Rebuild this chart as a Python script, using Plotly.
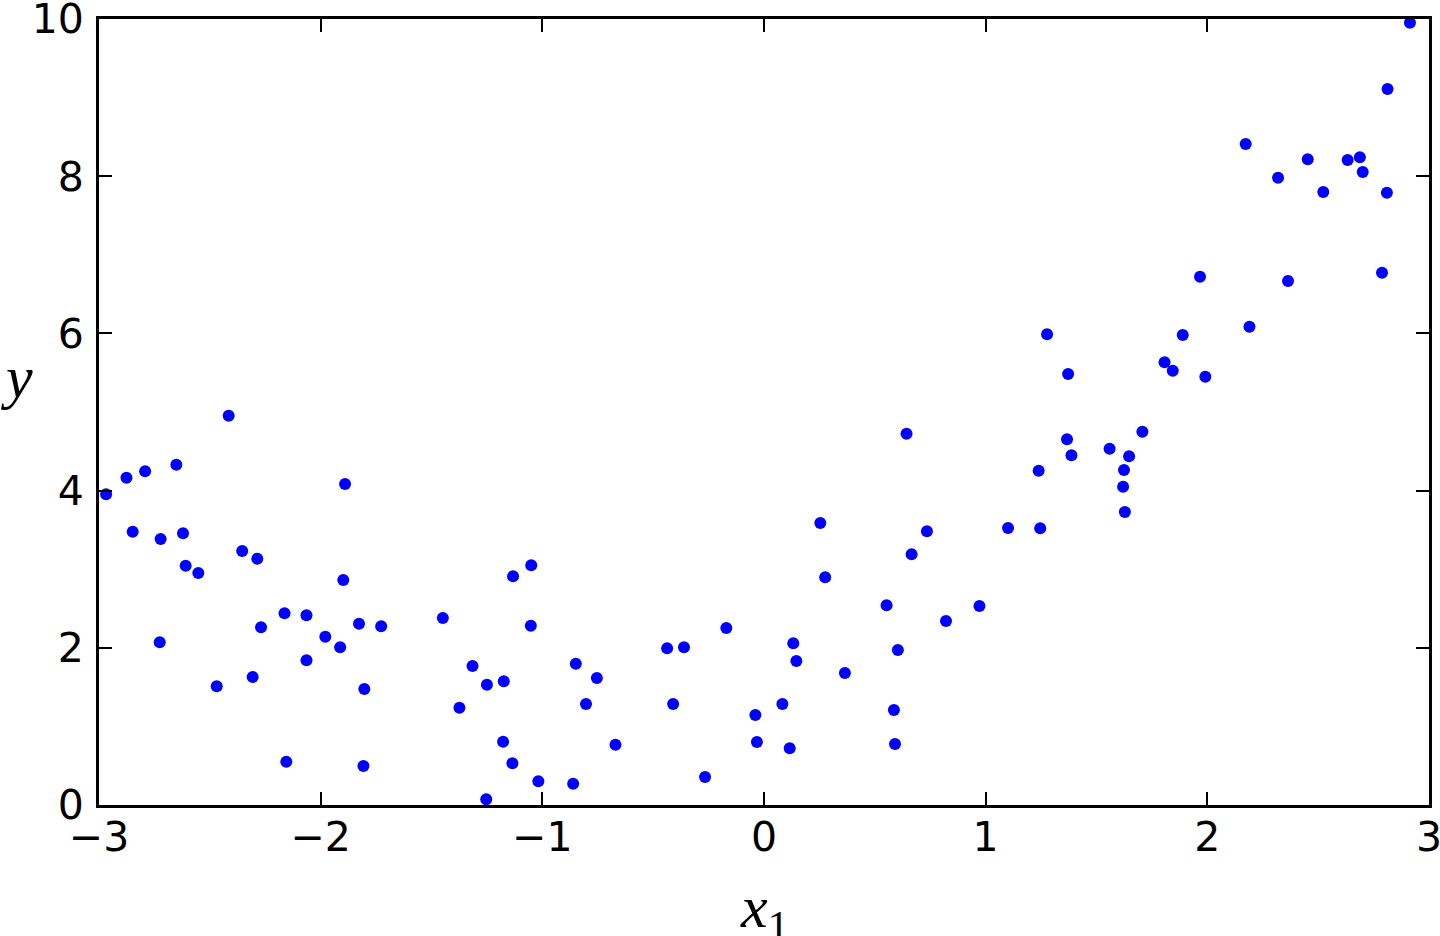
import plotly.graph_objects as go

x_vals = [-2.968, -2.876, -2.792, -2.848, -2.651, -2.722, -2.726, -2.621, -2.609, -2.552,
          -2.415, -2.469, -2.354, -2.286, -2.269, -2.307, -2.163, -2.155, -2.064, -2.064,
          -1.979, -1.912, -1.890, -1.898, -1.827, -1.803, -1.807, -1.727, -1.449, -1.374,
          -1.315, -1.250, -1.253, -1.174, -1.177, -1.132, -1.135, -1.050, -1.052, -1.018,
          -0.849, -0.861, -0.803, -0.754, -0.670, -0.437, -0.361, -0.410, -0.266, -0.170,
          -0.039, -0.032, 0.083, 0.116, 0.132, 0.146, 0.254, 0.276, 0.365, 0.553,
          0.586, 0.591, 0.604, 0.643, 0.666, 0.735, 0.821, 0.972, 1.101, 1.239,
          1.246, 1.277, 1.372, 1.367, 1.387, 1.559, 1.624, 1.620, 1.628, 1.647,
          1.707, 1.807, 1.844, 1.889, 1.967, 1.991, 2.173, 2.190, 2.319, 2.364,
          2.453, 2.523, 2.633, 2.688, 2.701, 2.788, 2.810, 2.813, 2.914]

y_vals = [3.953, 4.164, 4.246, 3.477, 4.330, 3.384, 2.070, 3.457, 3.045, 2.952,
          4.953, 1.510, 3.232, 3.134, 2.261, 1.628, 2.439, 0.551, 2.413, 1.841,
          2.141, 2.006, 4.084, 2.863, 2.307, 1.476, 0.496, 2.273, 2.379, 1.238,
          1.768, 1.531, 0.073, 1.574, 0.805, 2.910, 0.531, 3.050, 2.281, 0.302,
          1.798, 0.271, 1.285, 1.616, 0.767, 1.994, 2.006, 1.285, 0.356, 2.252,
          1.145, 0.802, 1.285, 0.721, 2.057, 1.832, 3.588, 2.897, 1.679, 2.541,
          1.209, 0.776, 1.972, 4.724, 3.190, 3.482, 2.341, 2.532, 3.524, 4.253,
          3.520, 5.988, 5.483, 4.653, 4.449, 4.533, 4.262, 4.050, 3.728, 4.436,
          4.749, 5.632, 5.525, 5.980, 6.721, 5.449, 8.410, 6.085, 7.981, 6.667,
          8.215, 7.799, 8.206, 8.240, 8.053, 6.772, 7.790, 9.109, 9.953]

x_ticks = [-3, -2, -1, 0, 1, 2, 3]
y_ticks = [0, 2, 4, 6, 8, 10]
x_label = "<i>x</i><sub>1</sub>"
y_label = "<i>y</i>"

fig = go.Figure()
fig.add_trace(go.Scatter(
    x=x_vals, y=y_vals, mode="markers",
    marker=dict(color="#0000ff", size=12, line=dict(width=0)),
    cliponaxis=True, showlegend=False,
))

axis_common = dict(
    showgrid=False, zeroline=False, automargin=False,
    showline=True, linecolor="black", linewidth=3,
    mirror="ticks", ticks="inside", ticklen=13, tickwidth=1.5, tickcolor="black",
    ticklabeloverflow="allow",
    tickfont=dict(family="DejaVu Sans", size=41, color="black"),
)

fig.update_xaxes(range=[-3, 3], tickvals=x_ticks, ticklabelstandoff=-6, **axis_common)
fig.update_yaxes(range=[0, 10], tickvals=y_ticks, ticklabelstandoff=4, **axis_common)

fig.add_annotation(
    text=x_label, xref="paper", yref="paper", x=0.5, y=0,
    xanchor="center", yanchor="middle", yshift=-106, showarrow=False,
    font=dict(family="Liberation Serif", size=60, color="black"),
)
fig.add_annotation(
    text=y_label, xref="paper", yref="paper", x=0, y=0.545,
    xanchor="center", yanchor="middle", xshift=-83, showarrow=False,
    font=dict(family="Liberation Serif", size=60, color="black"),
)

fig.update_layout(
    width=1440, height=936,
    margin=dict(l=99, r=11, t=19, b=131),
    plot_bgcolor="white", paper_bgcolor="white",
)

fig.write_html(
    "out.html",
    config={"displayModeBar": False},
    post_script="document.body.style.margin='0';document.body.style.overflow='hidden';",
)
